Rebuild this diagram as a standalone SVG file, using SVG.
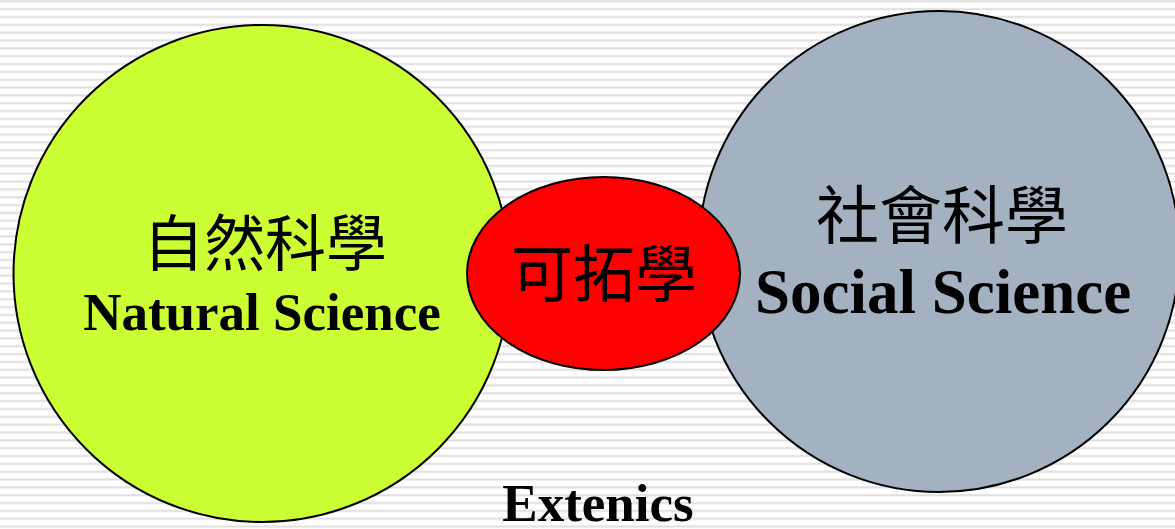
<svg xmlns="http://www.w3.org/2000/svg" width="1175" height="529" viewBox="0 0 1175 529">
<defs>
<pattern id="stripes" patternUnits="userSpaceOnUse" x="0" y="0" width="20" height="7.84">
<rect x="0" y="0" width="20" height="7.84" fill="#ffffff"/>
<rect x="0" y="0.3" width="20" height="2" fill="#dedede"/>
</pattern>
<style>
.node { stroke: #000; stroke-width: 2; }
.cjk { font-family: "Noto Sans CJK TC", "Noto Sans CJK SC", sans-serif; fill: #000; text-anchor: middle; }
.en { font-family: "Liberation Serif", "Times New Roman", serif; font-weight: bold; fill: #000; text-anchor: middle; }
</style>
</defs>
<rect x="0" y="0" width="1175" height="529" fill="url(#stripes)"/>
<g id="connectors"></g>
<g id="natural">
<circle class="node" cx="262" cy="273.5" r="248.5" fill="#ccff33"/>
<text class="cjk" x="265" y="266" font-size="61">自然科學</text>
<text class="en" x="262" y="330" font-size="53">Natural Science</text>
</g>
<g id="social">
<circle class="node" cx="939" cy="251.5" r="240.5" fill="#a3b1c0"/>
<text class="cjk" x="942" y="238" font-size="63">社會科學</text>
<text class="en" x="943" y="313" font-size="63">Social Science</text>
</g>
<g id="extenics">
<ellipse class="node" cx="603.5" cy="273.5" rx="136.5" ry="96.5" fill="#ff0000"/>
<text class="cjk" x="604" y="297" font-size="62">可拓學</text>
</g>
<g id="extenics-label">
<text class="en" x="598" y="521" font-size="53">Extenics</text>
</g>
</svg>
